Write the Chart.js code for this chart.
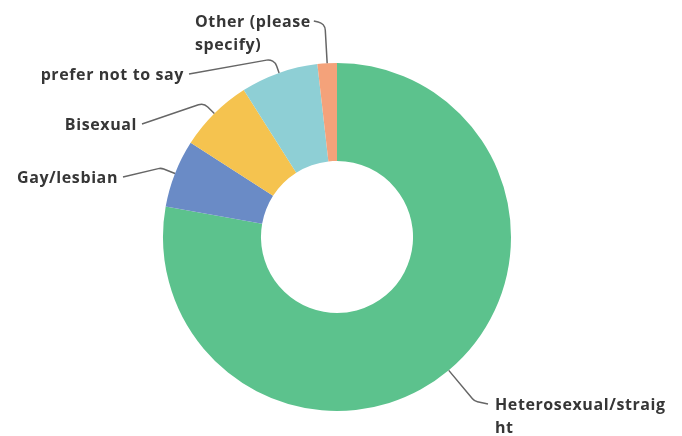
<!DOCTYPE html>
<html>
<head>
<meta charset="utf-8">
<script src="https://cdn.jsdelivr.net/npm/chart.js@4"></script>
<style>
  html, body { margin: 0; padding: 0; background: #fff; }
  #wrap { width: 682px; height: 436px; }
</style>
</head>
<body>
<div id="wrap"><canvas id="myChart" width="682" height="436"></canvas></div>
<script>
// data
const categories = ["Heterosexual/straight", "Gay/lesbian", "Bisexual", "prefer not to say", "Other (please specify)"];
const shares = [77.8, 6.3, 6.9, 7.2, 1.8];
// label text as wrapped in the picture
const labelLines = [["Heterosexual/straig", "ht"], ["Gay/lesbian"], ["Bisexual"], ["prefer not to say"], ["Other (please", "specify)"]];

const sliceColors = ["#5cc28d", "#6a8bc6", "#f5c34f", "#8ecfd5", "#f4a27a"];

// where each label sits, how far the leader goes out before bending,
// and which side of the text the leader joins
const labelPlace = [
  { x: 495, y: 405, align: "left", out: 40, join: "before" },
  { x: 118, y: 178, align: "right", out: 15, join: "after" },
  { x: 137, y: 125, align: "right", out: 15, join: "after" },
  { x: 184, y: 75, align: "right", out: 15, join: "after" },
  { x: 195, y: 22, align: "left", out: 40, join: "end" },
];

// leader lines + labels
const leaderPlugin = {
  id: "leaders",
  afterDraw(chart) {
    const ctx = chart.ctx;
    const meta = chart.getDatasetMeta(0);
    ctx.save();
    ctx.font = "700 16px 'Open Sans'";
    ctx.letterSpacing = "0.6px";
    ctx.fillStyle = "#363636";
    ctx.strokeStyle = "#666";
    ctx.lineWidth = 1.5;
    ctx.textBaseline = "middle";
    meta.data.forEach(function (arc, i) {
      const p = arc.getProps(["x", "y", "startAngle", "endAngle", "outerRadius"], true);
      const mid = (p.startAngle + p.endAngle) / 2;
      const ex = p.x + Math.cos(mid) * p.outerRadius;
      const ey = p.y + Math.sin(mid) * p.outerRadius;
      const pl = labelPlace[i];
      const kx = ex + Math.cos(mid) * pl.out;
      const ky = ey + Math.sin(mid) * pl.out;
      const ty = pl.y - 1;
      let endX;
      if (pl.join == "before") endX = pl.x - 7;
      else if (pl.join == "after") endX = pl.x + 5;
      else endX = pl.x + ctx.measureText(labelLines[i][0]).width + 3;

      ctx.beginPath();
      ctx.moveTo(ex, ey);
      ctx.arcTo(kx, ky, endX, ty, 9);
      ctx.lineTo(endX, ty);
      ctx.stroke();

      ctx.textAlign = pl.align;
      labelLines[i].forEach(function (line, j) {
        ctx.fillText(line, pl.x, pl.y + j * 23);
      });
    });
    ctx.restore();
  },
};

const ctx = document.getElementById("myChart");
const myChart = new Chart(ctx, {
  type: "doughnut",
  data: {
    labels: categories,
    datasets: [
      {
        data: shares,
        backgroundColor: sliceColors,
        borderWidth: 0,
      },
    ],
  },
  options: {
    responsive: false,
    animation: false,
    cutout: "43.7%",
    layout: { padding: { top: 63, bottom: 25, left: 163, right: 171 } },
    plugins: {
      legend: { display: false },
      tooltip: { enabled: false },
    },
  },
  plugins: [leaderPlugin],
});
</script>
</body>
</html>
